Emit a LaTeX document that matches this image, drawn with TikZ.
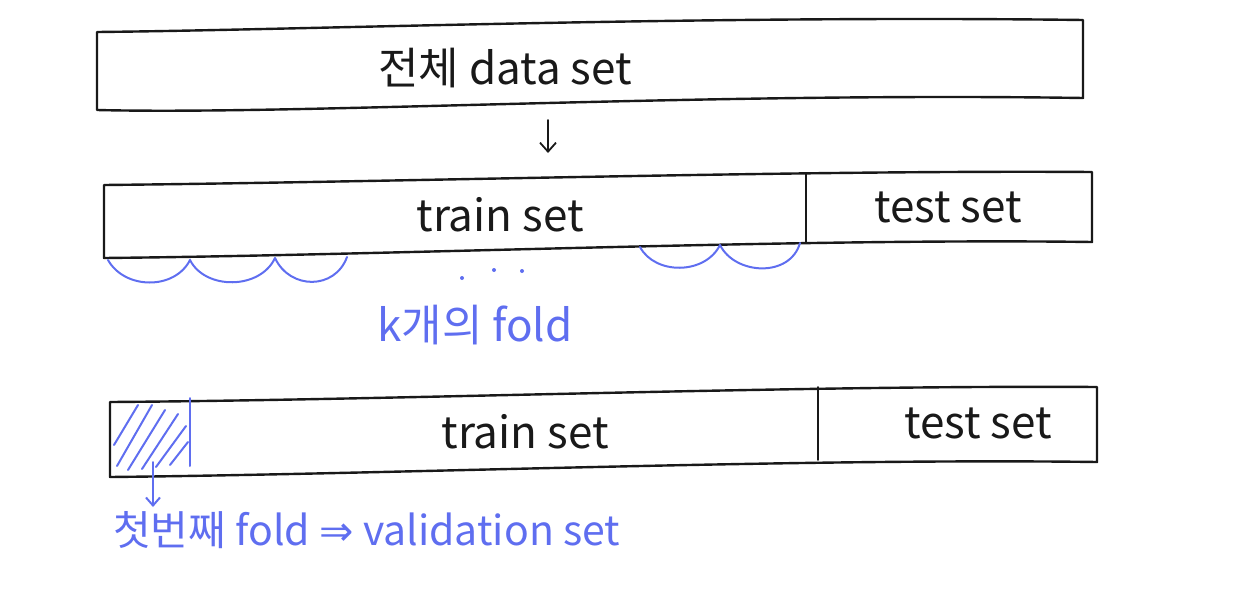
\documentclass[tikz,border=0pt]{standalone}
\usepackage{fontspec}
\setmainfont{Noto Sans CJK KR}
\newfontfamily\symfnt{DejaVu Sans}
\usetikzlibrary{arrows.meta}
\definecolor{pen}{RGB}{25,25,25}
\definecolor{blu}{RGB}{95,110,240}
\begin{document}
\begin{tikzpicture}[x=1pt,y=-1pt,
 box/.style={draw=pen,line width=2.4pt,line join=round,line cap=round},
 thin/.style={draw=pen,line width=1.8pt,line cap=round},
 arcline/.style={draw=blu,line width=2pt,line cap=round},
 lbl/.style={font=\fontsize{44}{48}\selectfont,text=pen,inner sep=0pt},
 blbl/.style={font=\fontsize{44}{48}\selectfont,text=blu,inner sep=0pt}]
\useasboundingbox (0,0) rectangle (1237,589);

% box 1
\draw[box] (97,32) .. controls (300,30) and (700,15) .. (1083,20) -- (1083,98)
  .. controls (700,92) and (300,115) .. (97,110) -- cycle;
\node[lbl] (all) at (505,68) {전체 data set};

% arrow down
\coordinate (a1) at (548,120);
\coordinate (a2) at (548,153);
\draw[thin,-{Straight Barb[length=9pt,width=16pt]}] (a1) -- (a2);

% box 2
\draw[box] (104,185) .. controls (400,182) and (800,170) .. (1092,172) -- (1092,242)
  .. controls (800,238) and (400,255) .. (104,258) -- cycle;
\coordinate (d2t) at (806,173);
\coordinate (d2b) at (806,242);
\draw[thin] (d2t) -- (d2b);
\node[lbl] (train1) at (500,215) {train set};
\node[lbl] (test1) at (948,207) {test set};

% folds
\draw[arcline] (108,260) .. controls (125,290) and (175,290) .. (190,260);
\draw[arcline] (190,260) .. controls (205,290) and (260,290) .. (275,258);
\draw[arcline] (275,258) .. controls (290,290) and (335,290) .. (347,257);
\draw[arcline] (640,247) .. controls (655,275) and (705,275) .. (720,245);
\draw[arcline] (720,245) .. controls (735,275) and (790,278) .. (800,243);
\fill[blu] (462,278) circle (2pt) (494,270) circle (2pt) (522,271) circle (2pt);
\node[blbl] (kfold) at (475,325) {k개의 fold};

% box 3
\draw[box] (110,402) .. controls (400,400) and (800,385) .. (1097,387) -- (1097,462)
  .. controls (800,458) and (400,474) .. (110,477) -- cycle;
\coordinate (d3t) at (818,387);
\coordinate (d3b) at (818,460);
\draw[thin] (d3t) -- (d3b);
\node[lbl] (train2) at (525,432) {train set};
\node[lbl] (test2) at (978,423) {test set};

% validation fold
\draw[arcline] (190,398) -- (190,466);
\draw[arcline] (114,445) -- (138,405);
\draw[arcline] (117,466) -- (152,405);
\draw[arcline] (128,470) -- (165,410);
\draw[arcline] (142,469) -- (178,414);
\draw[arcline] (156,467) -- (186,426);
\draw[arcline] (170,465) -- (188,442);
\coordinate (v1) at (153,462);
\coordinate (v2) at (153,507);
\draw[arcline,-{Straight Barb[length=8pt,width=14pt]}] (v1) -- (v2);
\node[blbl,anchor=west,font=\fontsize{41}{45}\selectfont] (valid) at (113,530) {첫번째 fold {\symfnt ⇒} validation set};
\end{tikzpicture}
\end{document}
